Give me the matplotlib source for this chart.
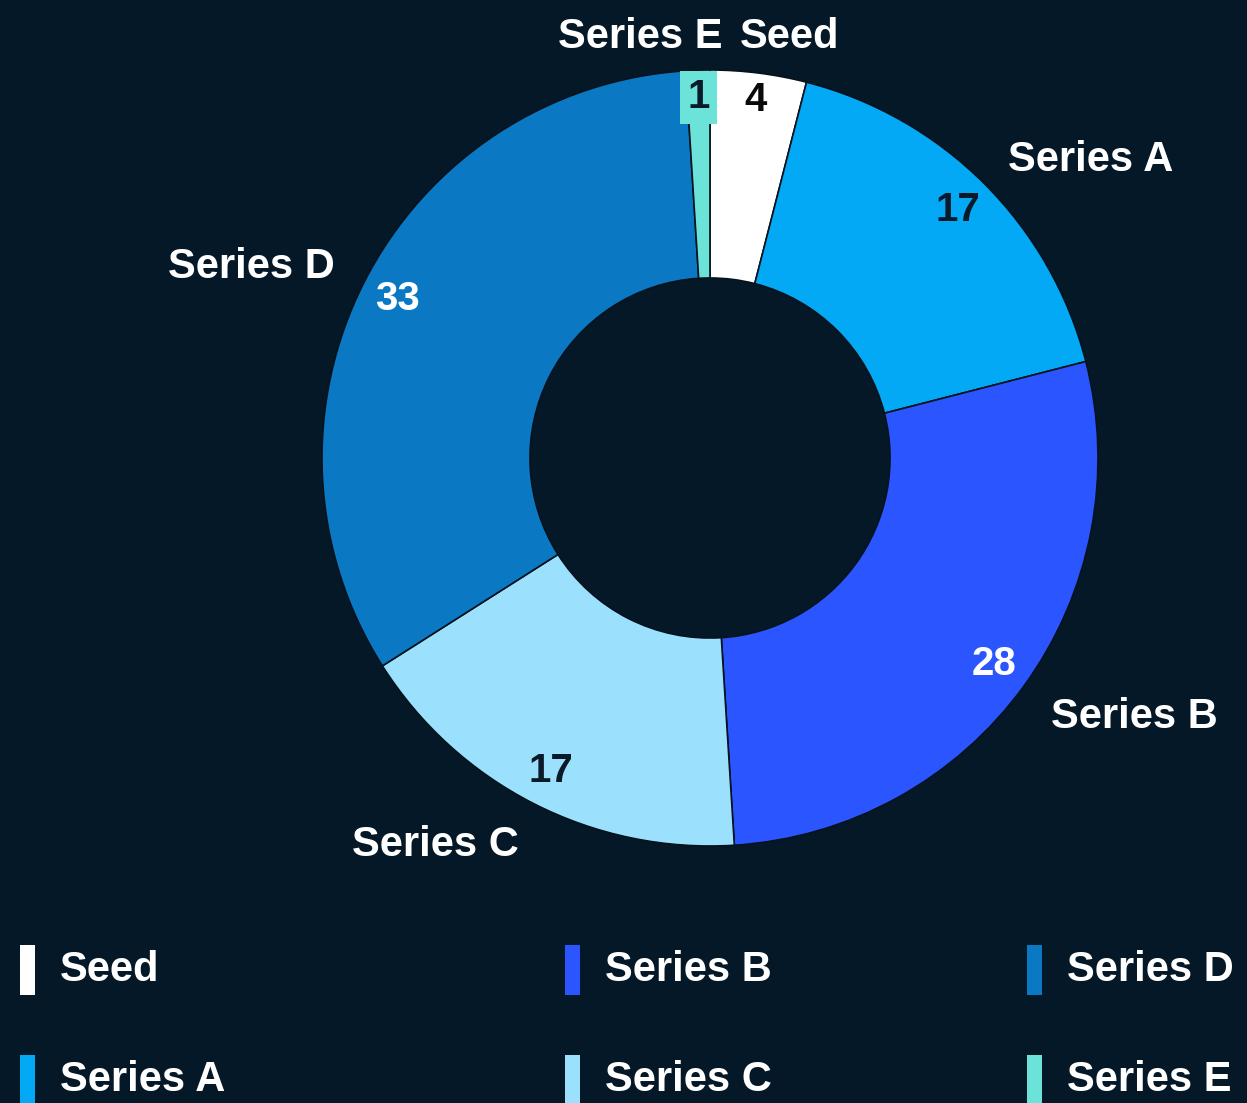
import numpy as np
import matplotlib
matplotlib.use("Agg")
import matplotlib.pyplot as plt
from matplotlib.patches import Rectangle

# data
labels = ["Seed", "Series A", "Series B", "Series C", "Series D", "Series E"]
values = [4, 17, 28, 17, 33, 1]
colors = ["#FFFFFF", "#03A9F4", "#2A55FF", "#9BE1FD", "#0A78C2", "#6BE3D9"]
value_colors = ["#0A0A0A", "#0A1A28", "#FFFFFF", "#0A1A28", "#FFFFFF", "#0A1A28"]

bg = "#051827"
plt.rcParams['font.family'] = ['Liberation Sans', 'DejaVu Sans']

fig = plt.figure(figsize=(12.47, 11.03), dpi=100, facecolor=bg)

# axes placed so that radius 1 = 388 px, centre at (710, 458) px
R = 388.0
half = 1.6
cx, cy = 710.0, 1103.0 - 458.0
ax = fig.add_axes([(cx - half * R) / 1247.0, (cy - half * R) / 1103.0,
                   2 * half * R / 1247.0, 2 * half * R / 1103.0])
ax.set_facecolor(bg)

wedges, _ = ax.pie(values, colors=colors, startangle=90, counterclock=False,
                   radius=1.0, wedgeprops=dict(width=0.536, edgecolor="#06121c", linewidth=1.2))
# pie() resets the limits, so fix them afterwards
ax.set_xlim(-half, half)
ax.set_ylim(-half, half)
ax.set_aspect('equal')
ax.axis('off')

for w, lab, val, vc, col in zip(wedges, labels, values, value_colors, colors):
    mid = np.deg2rad((w.theta1 + w.theta2) / 2.0)
    # value inside the ring, near the outer edge
    rv = 0.905 if val > 5 else 0.93
    kw = {}
    if val <= 1:
        kw['bbox'] = dict(boxstyle='square,pad=0.18', facecolor=col, edgecolor='none')
    ax.text(rv * np.cos(mid), rv * np.sin(mid), str(val), ha='center', va='center',
            fontsize=29, fontweight='bold', color=vc, **kw)
    # category label outside
    ro = 1.085
    x, y = ro * np.cos(mid), ro * np.sin(mid)
    ha = 'left' if x >= 0 else 'right'
    if abs(x) < 0.2:
        # the two labels at the top sit side by side on one line
        x = 0.055 + (0.022 if ha == 'left' else -0.022)
        y = 1.085
    elif y < 0:
        y -= 0.03
    ax.text(x, y, lab, ha=ha, va='center', fontsize=30, fontweight='bold', color='white')

# legend, three columns, filled column by column
col_x = [20, 565, 1027]
row_y = [970, 1080]
for i, (lab, col) in enumerate(zip(labels, colors)):
    cxp = col_x[i // 2]
    ryp = row_y[i % 2]
    fig.patches.append(Rectangle(((cxp) / 1247.0, (1103 - ryp - 25) / 1103.0),
                                 15 / 1247.0, 50 / 1103.0, transform=fig.transFigure,
                                 facecolor=col, edgecolor='none'))
    fig.text((cxp + 40) / 1247.0, (1103 - ryp) / 1103.0, lab, ha='left', va='center',
             fontsize=30, fontweight='bold', color='white')

fig.savefig("out.png", dpi=100, facecolor=bg)
